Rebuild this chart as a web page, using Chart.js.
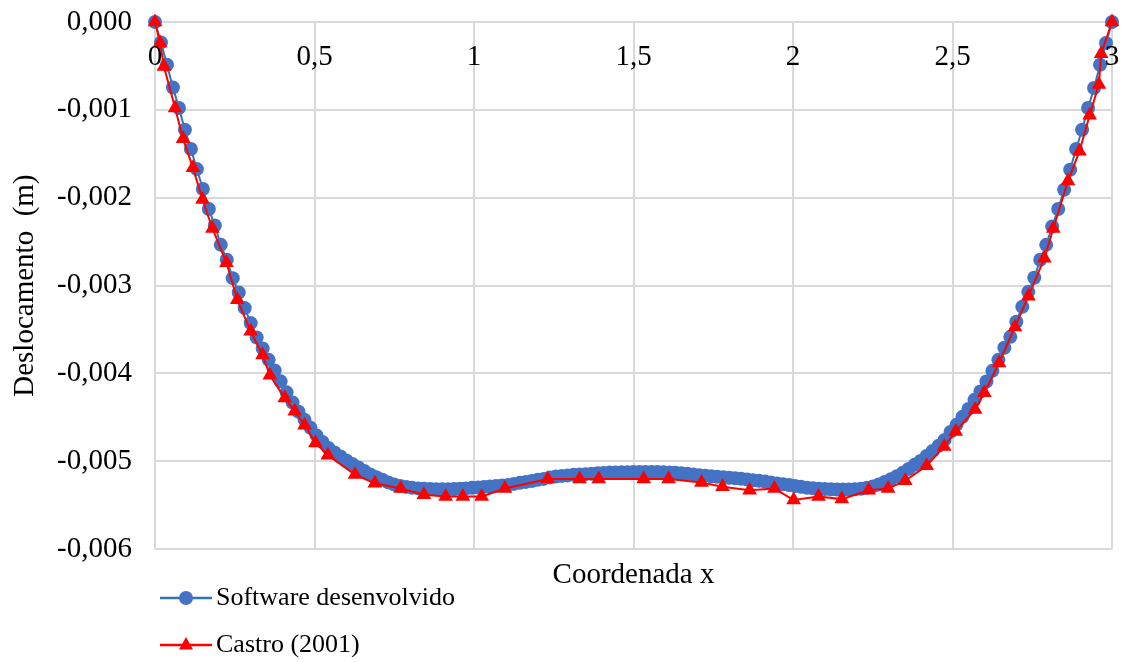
<!DOCTYPE html>
<html>
<head>
<meta charset="utf-8">
<title>Deslocamento x Coordenada</title>
<script src="https://cdn.jsdelivr.net/npm/chart.js@4.4.1/dist/chart.umd.min.js"></script>
<style>
  html, body { margin: 0; padding: 0; background: #ffffff; }
  #wrap { width: 1122px; height: 662px; position: relative; }
</style>
</head>
<body>
<div id="wrap"><canvas id="deslocChart"></canvas></div>
<script>
// Software desenvolvido - node coordinates (m)
const softwareX = [
  0, 0.01875, 0.0375, 0.05625, 0.075, 0.09375, 0.1125, 0.13125,
  0.15, 0.16875, 0.1875, 0.20625, 0.225, 0.24375, 0.2625, 0.28125,
  0.3, 0.31875, 0.3375, 0.35625, 0.375, 0.39375, 0.4125, 0.43125,
  0.45, 0.46875, 0.4875, 0.50625, 0.525, 0.54375, 0.5625, 0.58125,
  0.6, 0.61875, 0.6375, 0.65625, 0.675, 0.69375, 0.7125, 0.73125,
  0.75, 0.76875, 0.7875, 0.80625, 0.825, 0.84375, 0.8625, 0.88125,
  0.9, 0.91875, 0.9375, 0.95625, 0.975, 0.99375, 1.0125, 1.03125,
  1.05, 1.06875, 1.0875, 1.10625, 1.125, 1.14375, 1.1625, 1.18125,
  1.2, 1.21875, 1.2375, 1.25625, 1.275, 1.29375, 1.3125, 1.33125,
  1.35, 1.36875, 1.3875, 1.40625, 1.425, 1.44375, 1.4625, 1.48125,
  1.5, 1.51875, 1.5375, 1.55625, 1.575, 1.59375, 1.6125, 1.63125,
  1.65, 1.66875, 1.6875, 1.70625, 1.725, 1.74375, 1.7625, 1.78125,
  1.8, 1.81875, 1.8375, 1.85625, 1.875, 1.89375, 1.9125, 1.93125,
  1.95, 1.96875, 1.9875, 2.00625, 2.025, 2.04375, 2.0625, 2.08125,
  2.1, 2.11875, 2.1375, 2.15625, 2.175, 2.19375, 2.2125, 2.23125,
  2.25, 2.26875, 2.2875, 2.30625, 2.325, 2.34375, 2.3625, 2.38125,
  2.4, 2.41875, 2.4375, 2.45625, 2.475, 2.49375, 2.5125, 2.53125,
  2.55, 2.56875, 2.5875, 2.60625, 2.625, 2.64375, 2.6625, 2.68125,
  2.7, 2.71875, 2.7375, 2.75625, 2.775, 2.79375, 2.8125, 2.83125,
  2.85, 2.86875, 2.8875, 2.90625, 2.925, 2.94375, 2.9625, 2.98125,
  3
];
const softwareY = [
  0, -0.000232, -0.000486, -0.000745, -0.000979, -0.001226, -0.001446, -0.001674,
  -0.001901, -0.002129, -0.002316, -0.002536, -0.002706, -0.002915, -0.003079, -0.003256,
  -0.003427, -0.003590, -0.003715, -0.003845, -0.003965, -0.004090, -0.004215, -0.004330,
  -0.004435, -0.004528, -0.004619, -0.004705, -0.004779, -0.004848, -0.004900, -0.004945,
  -0.004990, -0.005030, -0.005069, -0.005109, -0.005149, -0.005180, -0.005210, -0.005240,
  -0.005265, -0.005280, -0.005291, -0.005302, -0.005308, -0.005313, -0.005315, -0.005317,
  -0.005317, -0.005317, -0.005315, -0.005313, -0.005308, -0.005302, -0.005297, -0.005291,
  -0.005285, -0.005280, -0.005274, -0.005268, -0.005257, -0.005245, -0.005234, -0.005223,
  -0.005211, -0.005200, -0.005183, -0.005172, -0.005166, -0.005160, -0.005154, -0.005150,
  -0.005146, -0.005142, -0.005137, -0.005132, -0.005128, -0.005126, -0.005125, -0.005124,
  -0.005122, -0.005122, -0.005122, -0.005122, -0.005122, -0.005124, -0.005126, -0.005130,
  -0.005136, -0.005142, -0.005150, -0.005157, -0.005163, -0.005169, -0.005175, -0.005181,
  -0.005187, -0.005193, -0.005199, -0.005207, -0.005215, -0.005222, -0.005229, -0.005240,
  -0.005252, -0.005262, -0.005270, -0.005280, -0.005290, -0.005300, -0.005307, -0.005312,
  -0.005316, -0.005319, -0.005321, -0.005321, -0.005321, -0.005319, -0.005313, -0.005302,
  -0.005285, -0.005263, -0.005234, -0.005205, -0.005171, -0.005131, -0.005086, -0.005040,
  -0.004995, -0.004938, -0.004881, -0.004824, -0.004756, -0.004665, -0.004585, -0.004494,
  -0.004403, -0.004300, -0.004205, -0.004092, -0.003970, -0.003845, -0.003708, -0.003583,
  -0.003412, -0.003240, -0.003071, -0.002911, -0.002706, -0.002536, -0.002327, -0.002129,
  -0.001909, -0.001682, -0.001446, -0.001226, -0.000979, -0.000751, -0.000486, -0.000239,
  0
];

// Castro (2001)
const castroX = [
  0, 0.016, 0.028, 0.063, 0.088, 0.119, 0.149, 0.180, 0.224, 0.258,
  0.300, 0.337, 0.360, 0.407, 0.438, 0.469, 0.503, 0.542, 0.627, 0.689,
  0.770, 0.843, 0.911, 0.965, 1.024, 1.097, 1.231, 1.331, 1.391, 1.532,
  1.610, 1.713, 1.779, 1.864, 1.942, 2.002, 2.080, 2.153, 2.237, 2.298,
  2.352, 2.419, 2.474, 2.510, 2.571, 2.600, 2.646, 2.696, 2.738, 2.788,
  2.816, 2.862, 2.898, 2.930, 2.959, 2.966, 3.000
];
const castroY = [
  0, -0.00024, -0.000506, -0.00098, -0.00133, -0.00166, -0.00202, -0.00235, -0.00274, -0.00316,
  -0.00352, -0.00379, -0.00402, -0.00428, -0.00443, -0.00459, -0.00479, -0.00493, -0.00515, -0.00525,
  -0.00531, -0.00538, -0.00540, -0.00540, -0.00540, -0.00531, -0.00520, -0.00520, -0.00520, -0.00520,
  -0.00520, -0.00524, -0.00529, -0.00533, -0.00531, -0.00544, -0.00540, -0.00543, -0.00533, -0.00531,
  -0.00522, -0.00505, -0.00483, -0.00466, -0.00441, -0.00422, -0.00388, -0.00347, -0.00312, -0.00269,
  -0.00235, -0.00181, -0.00147, -0.00106, -0.00071, -0.00036, 0
];

const seriesNames = ["Software desenvolvido", "Castro (2001)"];
const xAxisTitle = "Coordenada x";
const yAxisTitle = "Deslocamento  (m)";

const serif = "'Liberation Serif', 'Times New Roman', serif";
const blueLine = "#2e75b6";
const blueMarker = "#4472c4";
const red = "#ff0000";

const toPoints = (xs, ys) => xs.map((x, i) => ({ x: x, y: ys[i] }));
const decimalComma = (v, digits) => v.toFixed(digits).replace(".", ",");

// x tick labels sit just under the y=0 line (axis crosses at zero, like the sheet)
const topTickLabels = {
  id: "topTickLabels",
  afterDraw(chart) {
    const xs = chart.scales.x;
    const ctx = chart.ctx;
    ctx.save();
    ctx.font = "29px " + serif;
    ctx.fillStyle = "#000";
    ctx.textAlign = "center";
    ctx.textBaseline = "middle";
    xs.ticks.forEach((t) => {
      const px = xs.getPixelForValue(t.value);
      const label = Number.isInteger(t.value) ? String(t.value) : decimalComma(t.value, 1);
      ctx.fillText(label, px, chart.chartArea.top + 35);
    });
    ctx.restore();
  },
};

// legend stacked in a column under the axis title
const columnLegend = {
  id: "columnLegend",
  afterDraw(chart) {
    const ctx = chart.ctx;
    const rows = [598, 645];
    ctx.save();
    ctx.font = "26px " + serif;
    ctx.textBaseline = "middle";
    ctx.textAlign = "left";
    seriesNames.forEach((name, i) => {
      const y = rows[i];
      const col = i === 0 ? blueLine : red;
      ctx.strokeStyle = col;
      ctx.lineWidth = 2.5;
      ctx.beginPath();
      ctx.moveTo(160, y);
      ctx.lineTo(212, y);
      ctx.stroke();
      ctx.fillStyle = i === 0 ? blueMarker : red;
      ctx.beginPath();
      if (i === 0) {
        ctx.arc(186, y, 7, 0, Math.PI * 2);
      } else {
        ctx.moveTo(186, y - 8);
        ctx.lineTo(193, y + 4.5);
        ctx.lineTo(179, y + 4.5);
        ctx.closePath();
      }
      ctx.fill();
      ctx.fillStyle = "#000";
      ctx.fillText(name, 216, y);
    });
    ctx.restore();
  },
};

const ctx = document.getElementById("deslocChart");

const deslocChart = new Chart(ctx, {
  type: "scatter",
  data: {
    datasets: [
      {
        label: seriesNames[0],
        data: toPoints(softwareX, softwareY),
        showLine: true,
        clip: false,
        borderColor: blueLine,
        borderWidth: 2,
        backgroundColor: blueMarker,
        pointBackgroundColor: blueMarker,
        pointBorderColor: blueMarker,
        pointBorderWidth: 0,
        pointRadius: 7,
        pointStyle: "circle",
        order: 1,
      },
      {
        label: seriesNames[1],
        data: toPoints(castroX, castroY),
        showLine: true,
        clip: false,
        borderColor: red,
        borderWidth: 2,
        backgroundColor: red,
        pointBackgroundColor: red,
        pointBorderColor: red,
        pointBorderWidth: 0,
        pointRadius: 8.5,
        pointStyle: "triangle",
        order: 0,
      },
    ],
  },
  options: {
    responsive: true,
    maintainAspectRatio: false,
    animation: false,
    devicePixelRatio: 1,
    layout: {
      padding: { left: 0, top: 22, right: 10, bottom: 69 },
    },
    plugins: {
      legend: { display: false },
      tooltip: { enabled: false },
    },
    scales: {
      x: {
        type: "linear",
        position: "bottom",
        min: 0,
        max: 3,
        ticks: { stepSize: 0.5, display: false },
        grid: { color: "#d9d9d9", lineWidth: 2, drawTicks: false },
        border: { display: false },
        title: {
          display: true,
          text: xAxisTitle,
          color: "#000",
          font: { family: serif, size: 29 },
          padding: { top: 9, bottom: 0 },
        },
      },
      y: {
        type: "linear",
        min: -0.006,
        max: 0,
        ticks: {
          stepSize: 0.001,
          color: "#000",
          font: { family: serif, size: 29 },
          padding: 23,
          callback: (v) => decimalComma(v, 3),
        },
        grid: { color: "#d9d9d9", lineWidth: 2, drawTicks: false },
        border: { display: false },
        title: {
          display: true,
          text: yAxisTitle,
          color: "#000",
          font: { family: serif, size: 29 },
          padding: { top: 8, bottom: 0 },
        },
        afterFit: function (scaleInstance) {
          scaleInstance.width = 155; // keep plot left edge where the sheet has it
          scaleInstance.paddingTop = 0; // layout padding handles the top gap
          scaleInstance.paddingBottom = 0;
        },
      },
    },
  },
  plugins: [topTickLabels, columnLegend],
});
</script>
</body>
</html>
